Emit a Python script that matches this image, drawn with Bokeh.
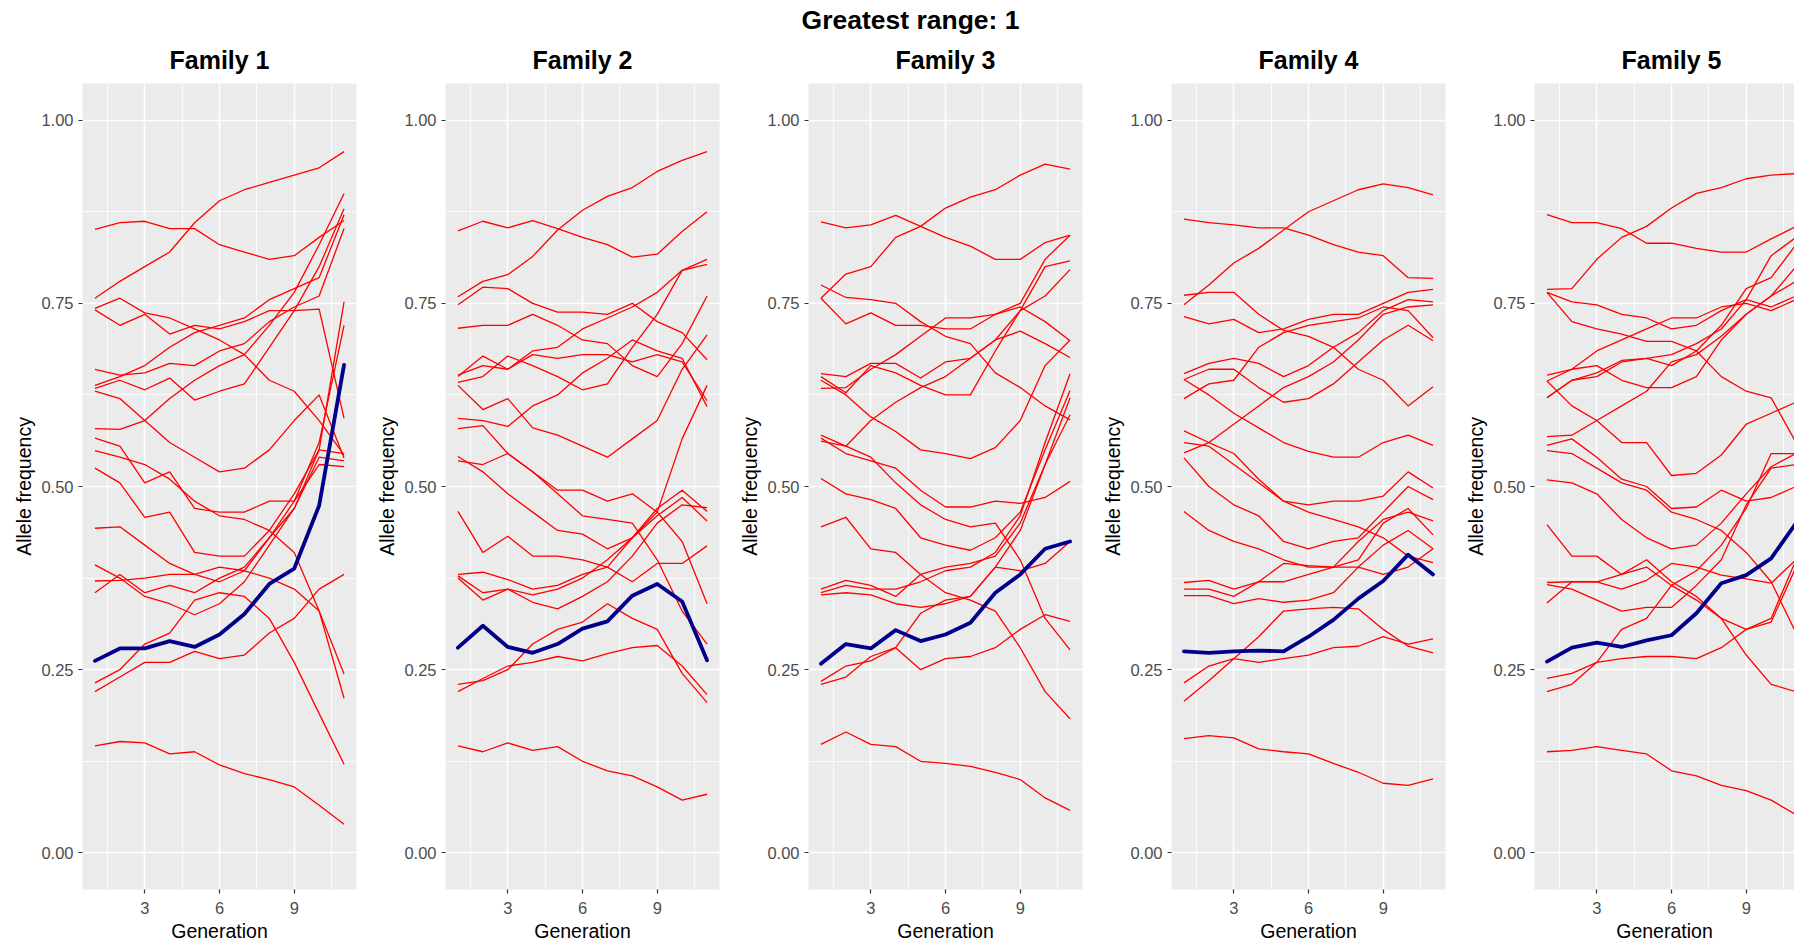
from bokeh.plotting import figure
from bokeh.layouts import row
from bokeh.models import FixedTicker, NumeralTickFormatter, Range1d, Title
from bokeh.embed import file_html
from bokeh.resources import INLINE

# ---------------------------------------------------------------- data
generations = list(range(1, 12))
main_title = "Greatest range: 1"
family_names = ["Family 1", "Family 2", "Family 3", "Family 4", "Family 5"]
x_label = "Generation"
y_label = "Allele frequency"
y_ticks = [0.0, 0.25, 0.5, 0.75, 1.0]
y_minor = [0.125, 0.375, 0.625, 0.875]
x_ticks = [3, 6, 9]
x_minor = [1.5, 4.5, 7.5, 10.5]

fam1_loci = [
    [0.757, 0.78, 0.80, 0.82, 0.86, 0.89, 0.905, 0.915, 0.925, 0.935, 0.957],
    [0.851, 0.86, 0.862, 0.852, 0.852, 0.83, 0.82, 0.81, 0.815, 0.84, 0.863],
    [0.743, 0.757, 0.737, 0.73, 0.715, 0.70, 0.68, 0.645, 0.63, 0.59, 0.543],
    [0.741, 0.72, 0.735, 0.708, 0.72, 0.715, 0.725, 0.74, 0.74, 0.742, 0.593],
    [0.660, 0.652, 0.655, 0.668, 0.665, 0.685, 0.695, 0.725, 0.745, 0.76, 0.852],
    [0.638, 0.65, 0.665, 0.69, 0.71, 0.72, 0.73, 0.755, 0.77, 0.785, 0.871],
    [0.634, 0.645, 0.632, 0.648, 0.618, 0.63, 0.64, 0.69, 0.74, 0.80, 0.879],
    [0.630, 0.62, 0.59, 0.56, 0.54, 0.52, 0.525, 0.55, 0.59, 0.625, 0.539],
    [0.579, 0.578, 0.59, 0.62, 0.645, 0.665, 0.68, 0.72, 0.765, 0.83, 0.90],
    [0.566, 0.555, 0.505, 0.52, 0.47, 0.465, 0.465, 0.48, 0.48, 0.53, 0.527],
    [0.549, 0.54, 0.53, 0.51, 0.48, 0.46, 0.455, 0.44, 0.41, 0.33, 0.244],
    [0.525, 0.505, 0.458, 0.465, 0.41, 0.405, 0.405, 0.44, 0.49, 0.55, 0.752],
    [0.443, 0.445, 0.42, 0.395, 0.38, 0.37, 0.385, 0.43, 0.48, 0.56, 0.72],
    [0.393, 0.375, 0.35, 0.34, 0.325, 0.34, 0.37, 0.42, 0.47, 0.55, 0.545],
    [0.371, 0.372, 0.375, 0.38, 0.38, 0.39, 0.385, 0.375, 0.36, 0.33, 0.211],
    [0.355, 0.38, 0.355, 0.365, 0.355, 0.375, 0.39, 0.43, 0.47, 0.54, 0.535],
    [0.232, 0.25, 0.285, 0.30, 0.345, 0.355, 0.35, 0.32, 0.26, 0.19, 0.121],
    [0.220, 0.24, 0.26, 0.26, 0.275, 0.265, 0.27, 0.30, 0.32, 0.36, 0.38],
    [0.146, 0.152, 0.15, 0.135, 0.138, 0.12, 0.108, 0.10, 0.09, 0.065, 0.039],
]
fam1_mean = [0.262, 0.279, 0.279, 0.289, 0.281, 0.298, 0.326, 0.367, 0.388, 0.474, 0.666]

fam2_loci = [
    [0.759, 0.78, 0.789, 0.814, 0.85, 0.877, 0.896, 0.908, 0.93, 0.945, 0.957],
    [0.849, 0.862, 0.853, 0.863, 0.852, 0.84, 0.83, 0.813, 0.817, 0.848, 0.875],
    [0.748, 0.772, 0.77, 0.75, 0.738, 0.738, 0.735, 0.75, 0.725, 0.71, 0.673],
    [0.716, 0.72, 0.72, 0.735, 0.72, 0.70, 0.695, 0.665, 0.65, 0.695, 0.76],
    [0.652, 0.665, 0.66, 0.685, 0.69, 0.715, 0.73, 0.745, 0.765, 0.795, 0.81],
    [0.650, 0.678, 0.66, 0.68, 0.675, 0.68, 0.68, 0.67, 0.68, 0.67, 0.617],
    [0.642, 0.65, 0.678, 0.665, 0.65, 0.632, 0.64, 0.69, 0.735, 0.795, 0.803],
    [0.638, 0.605, 0.62, 0.58, 0.57, 0.555, 0.54, 0.565, 0.59, 0.66, 0.707],
    [0.593, 0.59, 0.582, 0.61, 0.625, 0.655, 0.675, 0.70, 0.685, 0.675, 0.609],
    [0.579, 0.583, 0.545, 0.52, 0.49, 0.46, 0.455, 0.45, 0.40, 0.33, 0.285],
    [0.541, 0.52, 0.49, 0.465, 0.44, 0.435, 0.415, 0.43, 0.465, 0.565, 0.638],
    [0.535, 0.53, 0.545, 0.52, 0.495, 0.495, 0.48, 0.49, 0.465, 0.425, 0.34],
    [0.466, 0.41, 0.432, 0.405, 0.405, 0.40, 0.39, 0.37, 0.395, 0.395, 0.419],
    [0.380, 0.383, 0.373, 0.36, 0.365, 0.38, 0.39, 0.43, 0.46, 0.485, 0.453],
    [0.375, 0.345, 0.36, 0.352, 0.36, 0.375, 0.40, 0.43, 0.47, 0.495, 0.466],
    [0.378, 0.355, 0.36, 0.342, 0.333, 0.35, 0.37, 0.405, 0.45, 0.475, 0.471],
    [0.230, 0.235, 0.25, 0.285, 0.305, 0.315, 0.34, 0.32, 0.305, 0.245, 0.205],
    [0.220, 0.238, 0.255, 0.26, 0.268, 0.262, 0.272, 0.28, 0.283, 0.255, 0.216],
    [0.146, 0.138, 0.15, 0.14, 0.145, 0.125, 0.112, 0.105, 0.09, 0.072, 0.08],
]
fam2_mean = [0.280, 0.310, 0.281, 0.273, 0.285, 0.306, 0.316, 0.351, 0.367, 0.343, 0.263]

fam3_loci = [
    [0.757, 0.79, 0.80, 0.84, 0.855, 0.88, 0.895, 0.905, 0.925, 0.94, 0.933],
    [0.861, 0.853, 0.857, 0.87, 0.855, 0.84, 0.828, 0.81, 0.81, 0.833, 0.843],
    [0.775, 0.758, 0.755, 0.75, 0.725, 0.705, 0.695, 0.655, 0.635, 0.61, 0.591],
    [0.757, 0.722, 0.737, 0.72, 0.72, 0.715, 0.715, 0.735, 0.75, 0.81, 0.843],
    [0.654, 0.65, 0.668, 0.668, 0.648, 0.67, 0.675, 0.70, 0.74, 0.80, 0.808],
    [0.650, 0.628, 0.665, 0.655, 0.638, 0.625, 0.625, 0.685, 0.74, 0.76, 0.796],
    [0.634, 0.635, 0.66, 0.68, 0.705, 0.73, 0.73, 0.735, 0.745, 0.725, 0.699],
    [0.570, 0.555, 0.59, 0.615, 0.635, 0.65, 0.675, 0.70, 0.712, 0.695, 0.676],
    [0.645, 0.625, 0.595, 0.575, 0.55, 0.545, 0.538, 0.553, 0.59, 0.665, 0.70],
    [0.566, 0.545, 0.535, 0.525, 0.495, 0.472, 0.472, 0.48, 0.477, 0.485, 0.507],
    [0.562, 0.555, 0.54, 0.505, 0.475, 0.455, 0.445, 0.45, 0.40, 0.32, 0.277],
    [0.511, 0.49, 0.482, 0.47, 0.43, 0.42, 0.413, 0.43, 0.465, 0.55, 0.631],
    [0.445, 0.458, 0.415, 0.41, 0.38, 0.355, 0.345, 0.33, 0.28, 0.22, 0.183],
    [0.360, 0.372, 0.365, 0.35, 0.38, 0.39, 0.395, 0.405, 0.45, 0.53, 0.621],
    [0.355, 0.365, 0.36, 0.36, 0.37, 0.385, 0.39, 0.41, 0.46, 0.56, 0.654],
    [0.352, 0.355, 0.352, 0.34, 0.335, 0.34, 0.35, 0.39, 0.44, 0.53, 0.598],
    [0.234, 0.255, 0.262, 0.28, 0.327, 0.345, 0.35, 0.39, 0.385, 0.395, 0.425],
    [0.230, 0.24, 0.268, 0.28, 0.25, 0.265, 0.268, 0.28, 0.305, 0.325, 0.316],
    [0.148, 0.165, 0.148, 0.145, 0.125, 0.122, 0.118, 0.11, 0.10, 0.075, 0.058],
]
fam3_mean = [0.258, 0.285, 0.279, 0.304, 0.289, 0.298, 0.314, 0.355, 0.380, 0.415, 0.425]

fam4_loci = [
    [0.748, 0.775, 0.805, 0.825, 0.85, 0.875, 0.89, 0.905, 0.913, 0.908, 0.898],
    [0.865, 0.86, 0.857, 0.853, 0.853, 0.843, 0.83, 0.82, 0.815, 0.785, 0.784],
    [0.761, 0.765, 0.765, 0.735, 0.713, 0.705, 0.69, 0.66, 0.645, 0.61, 0.636],
    [0.732, 0.722, 0.728, 0.71, 0.715, 0.728, 0.735, 0.735, 0.75, 0.765, 0.769],
    [0.654, 0.668, 0.675, 0.668, 0.65, 0.665, 0.69, 0.71, 0.74, 0.755, 0.752],
    [0.646, 0.66, 0.66, 0.635, 0.615, 0.62, 0.64, 0.67, 0.70, 0.72, 0.699],
    [0.620, 0.64, 0.645, 0.69, 0.71, 0.72, 0.725, 0.73, 0.745, 0.74, 0.703],
    [0.646, 0.625, 0.60, 0.58, 0.56, 0.548, 0.54, 0.54, 0.56, 0.57, 0.556],
    [0.546, 0.56, 0.585, 0.61, 0.635, 0.65, 0.67, 0.70, 0.735, 0.745, 0.748],
    [0.576, 0.56, 0.545, 0.51, 0.48, 0.475, 0.48, 0.48, 0.487, 0.52, 0.498],
    [0.560, 0.555, 0.53, 0.505, 0.48, 0.465, 0.455, 0.445, 0.43, 0.405, 0.396],
    [0.539, 0.50, 0.475, 0.46, 0.425, 0.415, 0.425, 0.43, 0.465, 0.50, 0.482],
    [0.466, 0.44, 0.425, 0.415, 0.40, 0.39, 0.39, 0.40, 0.45, 0.47, 0.434],
    [0.369, 0.372, 0.36, 0.37, 0.37, 0.38, 0.39, 0.425, 0.455, 0.465, 0.453],
    [0.360, 0.36, 0.35, 0.37, 0.395, 0.392, 0.39, 0.39, 0.38, 0.39, 0.415],
    [0.351, 0.351, 0.34, 0.347, 0.342, 0.345, 0.355, 0.39, 0.42, 0.44, 0.415],
    [0.232, 0.255, 0.265, 0.26, 0.265, 0.27, 0.28, 0.282, 0.295, 0.285, 0.292],
    [0.207, 0.235, 0.265, 0.295, 0.33, 0.333, 0.335, 0.333, 0.305, 0.282, 0.273],
    [0.156, 0.16, 0.157, 0.142, 0.138, 0.135, 0.122, 0.11, 0.095, 0.092, 0.101],
]
fam4_mean = [0.275, 0.273, 0.275, 0.276, 0.275, 0.295, 0.318, 0.347, 0.371, 0.407, 0.380]

fam5_loci = [
    [0.769, 0.77, 0.81, 0.84, 0.855, 0.88, 0.90, 0.908, 0.92, 0.925, 0.927],
    [0.871, 0.86, 0.86, 0.852, 0.832, 0.832, 0.825, 0.82, 0.82, 0.838, 0.855],
    [0.765, 0.725, 0.715, 0.708, 0.698, 0.698, 0.685, 0.65, 0.63, 0.621, 0.56],
    [0.765, 0.752, 0.748, 0.735, 0.73, 0.715, 0.72, 0.74, 0.755, 0.745, 0.76],
    [0.652, 0.66, 0.665, 0.645, 0.635, 0.635, 0.65, 0.70, 0.735, 0.76, 0.78],
    [0.644, 0.66, 0.685, 0.70, 0.715, 0.73, 0.73, 0.745, 0.75, 0.74, 0.755],
    [0.621, 0.645, 0.655, 0.672, 0.675, 0.68, 0.695, 0.715, 0.755, 0.815, 0.84],
    [0.621, 0.645, 0.65, 0.67, 0.675, 0.665, 0.685, 0.72, 0.77, 0.785, 0.83],
    [0.644, 0.61, 0.59, 0.56, 0.56, 0.515, 0.518, 0.543, 0.585, 0.60, 0.615],
    [0.568, 0.57, 0.59, 0.61, 0.63, 0.67, 0.68, 0.705, 0.735, 0.76, 0.80],
    [0.556, 0.565, 0.54, 0.51, 0.50, 0.47, 0.472, 0.495, 0.48, 0.485, 0.50],
    [0.549, 0.545, 0.525, 0.505, 0.495, 0.465, 0.455, 0.44, 0.41, 0.37, 0.30],
    [0.509, 0.505, 0.49, 0.455, 0.43, 0.415, 0.42, 0.45, 0.49, 0.527, 0.545],
    [0.448, 0.405, 0.405, 0.38, 0.40, 0.37, 0.35, 0.32, 0.27, 0.23, 0.22],
    [0.369, 0.37, 0.37, 0.36, 0.372, 0.395, 0.39, 0.379, 0.374, 0.368, 0.40],
    [0.366, 0.36, 0.345, 0.33, 0.335, 0.335, 0.365, 0.40, 0.475, 0.525, 0.53],
    [0.341, 0.37, 0.37, 0.38, 0.39, 0.365, 0.385, 0.42, 0.47, 0.545, 0.545],
    [0.238, 0.245, 0.26, 0.305, 0.32, 0.365, 0.345, 0.32, 0.305, 0.315, 0.39],
    [0.220, 0.23, 0.26, 0.265, 0.268, 0.268, 0.265, 0.28, 0.305, 0.32, 0.40],
    [0.138, 0.14, 0.145, 0.14, 0.135, 0.112, 0.105, 0.092, 0.085, 0.072, 0.052],
]
fam5_mean = [0.261, 0.280, 0.287, 0.281, 0.290, 0.297, 0.327, 0.368, 0.379, 0.402, 0.450]

families = [
    (fam1_loci, fam1_mean),
    (fam2_loci, fam2_mean),
    (fam3_loci, fam3_mean),
    (fam4_loci, fam4_mean),
    (fam5_loci, fam5_mean),
]

# ---------------------------------------------------------------- style
FONT = "Liberation Sans"
PANEL_BG = "#EBEBEB"
LEFT, FRAME_W, RIGHT = 82, 274, 7
TOP, BOTTOM, HEIGHT = 83, 55, 944
PX_PER_GEN = FRAME_W / 11.0
LAST_FRAME_W = 1794 - 4 * (LEFT + FRAME_W + RIGHT) - LEFT
FACET_STANDOFF = 20
FACET_SIZE = 25.0
HEAD_SIZE = 26.5
FACET_EM = 4.002      # advance width of "Family n" in em (Arial bold metrics)
HEAD_EM = 8.225       # advance width of the heading in em
HEAD_CENTRE = 910 - (2 * (LEFT + FRAME_W + RIGHT) + LEFT)   # relative to frame 3


def style_title(t, size, standoff, offset):
    t.align = "left"
    t.offset = offset
    t.standoff = standoff
    t.text_font = FONT
    t.text_font_size = f"{size}px"
    t.text_font_style = "bold"
    t.text_color = "black"


def make_panel(name, loci, mean, frame_w, right, x_hi, heading=None):
    p = figure(
        width=LEFT + frame_w + right, height=HEIGHT,
        x_range=Range1d(0.5, x_hi), y_range=Range1d(-0.05, 1.05),
        output_backend="svg", toolbar_location=None,
        min_border_left=LEFT, min_border_right=right,
        min_border_top=TOP, min_border_bottom=BOTTOM,
    )
    p.background_fill_color = PANEL_BG
    p.border_fill_color = "white"
    p.outline_line_color = None

    # facet strip title, centred over a full-width panel
    facet_offset = (FRAME_W - FACET_EM * FACET_SIZE) / 2.0
    if heading is None:
        p.title.text = name
        style_title(p.title, FACET_SIZE, FACET_STANDOFF, facet_offset)
    else:
        # the overall heading goes outermost, the facet name next to the frame
        p.title.text = heading
        style_title(p.title, HEAD_SIZE, -2,
                    HEAD_CENTRE - HEAD_EM * HEAD_SIZE / 2.0)
        facet = Title(text=name)
        style_title(facet, FACET_SIZE, FACET_STANDOFF, facet_offset)
        p.add_layout(facet, "above")

    xt = FixedTicker(ticks=x_ticks, minor_ticks=x_minor)
    yt = FixedTicker(ticks=y_ticks, minor_ticks=y_minor)
    p.xaxis.ticker = xt
    p.xgrid.ticker = xt
    p.yaxis.ticker = yt
    p.ygrid.ticker = yt
    p.yaxis.formatter = NumeralTickFormatter(format="0.00")

    for g in (p.xgrid, p.ygrid):
        g.grid_line_color = "white"
        g.grid_line_width = 1.6
        g.minor_grid_line_color = "white"
        g.minor_grid_line_width = 0.8

    for ax in (p.xaxis, p.yaxis):
        ax.axis_line_color = None
        ax.major_tick_line_color = "#333333"
        ax.major_tick_line_width = 1.2
        ax.major_tick_out = 4
        ax.major_tick_in = 0
        ax.minor_tick_line_color = None
        ax.major_label_text_font = FONT
        ax.major_label_text_font_size = "16.5px"
        ax.major_label_text_color = "#4D4D4D"
        ax.axis_label_text_font = FONT
        ax.axis_label_text_font_size = "19.5px"
        ax.axis_label_text_font_style = "normal"
        ax.axis_label_text_color = "black"
    p.yaxis.major_label_standoff = 5
    p.yaxis.axis_label_standoff = 3
    p.xaxis.major_label_standoff = 8
    p.xaxis.axis_label_standoff = 3
    p.xaxis.axis_label = x_label
    p.yaxis.axis_label = y_label

    p.multi_line(xs=[generations] * len(loci), ys=loci,
                 line_color="#FF0000", line_width=1.3, line_join="round")
    p.line(generations, mean, line_color="#00008B", line_width=3.8,
           line_join="round", line_cap="round")
    return p


panels = []
for i, (name, (loci, mean)) in enumerate(zip(family_names, families)):
    heading = main_title if i == 2 else None
    if i < 4:
        p = make_panel(name, loci, mean, FRAME_W, RIGHT, 11.5, heading)
    else:
        p = make_panel(name, loci, mean, LAST_FRAME_W, 0,
                       0.5 + LAST_FRAME_W / PX_PER_GEN, heading)
    panels.append(p)

layout = row(*panels, spacing=0)
open("out.html", "w").write(file_html(layout, INLINE))
